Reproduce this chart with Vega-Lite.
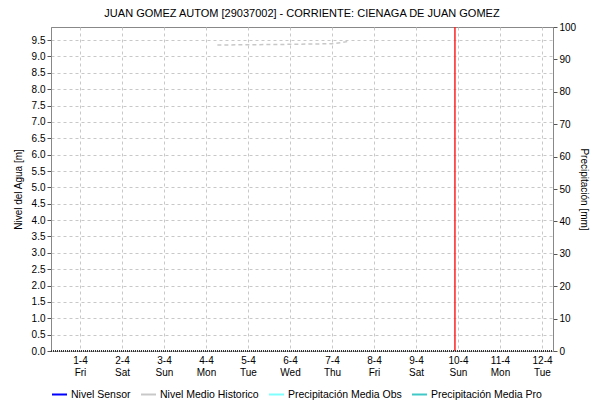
{
  "$schema": "https://vega.github.io/schema/vega-lite/v6.json",
  "autosize": {"type": "none"},
  "width": 502,
  "height": 324,
  "padding": {"left": 51, "top": 27, "right": 37, "bottom": 52},
  "background": "white",
  "title": {"text": "JUAN GOMEZ AUTOM  [29037002] - CORRIENTE: CIENAGA DE JUAN GOMEZ", "font": "Liberation Sans", "fontSize": 11, "fontWeight": "normal", "color": "#000", "offset": 3},
  "config": {
    "view": {"stroke": "#888", "strokeWidth": 1},
    "font": "Liberation Sans",
    "axis": {"labelFont": "Liberation Sans", "titleFont": "Liberation Sans", "labelFontSize": 10, "titleFontSize": 10, "titleFontWeight": "normal", "labelColor": "#000", "titleColor": "#000", "gridColor": "#c8c8c8", "gridDash": [3, 3], "domainColor": "#888", "tickColor": "#555", "tickSize": 4}
  },
  "datasets": {
    "hist": [
      {"t": "2022-04-04T06:30:00Z", "nivel": 9.35, "serie": "Nivel Medio Historico"},
      {"t": "2022-04-05T06:00:00Z", "nivel": 9.36, "serie": "Nivel Medio Historico"},
      {"t": "2022-04-06T00:00:00Z", "nivel": 9.37, "serie": "Nivel Medio Historico"},
      {"t": "2022-04-06T12:00:00Z", "nivel": 9.38, "serie": "Nivel Medio Historico"},
      {"t": "2022-04-07T00:00:00Z", "nivel": 9.39, "serie": "Nivel Medio Historico"},
      {"t": "2022-04-07T06:00:00Z", "nivel": 9.43, "serie": "Nivel Medio Historico"},
      {"t": "2022-04-07T09:30:00Z", "nivel": 9.46, "serie": "Nivel Medio Historico"}
    ],
    "precip": [
      {"t": "2022-03-31T07:26:00Z", "p": 0},
      {"t": "2022-04-12T06:17:00Z", "p": 0}
    ],
    "now": [{"t": "2022-04-09T22:15:00Z"}]
  },
  "layer": [
    {
      "data": {"name": "hist"},
      "mark": {"type": "line", "strokeDash": [4, 3], "strokeWidth": 1.5},
      "encoding": {
        "x": {"field": "t", "type": "temporal", "scale": {"type": "utc", "domain": [{"year": 2022, "month": 3, "date": 31, "hours": 7, "minutes": 26, "utc": true}, {"year": 2022, "month": 4, "date": 12, "hours": 6, "minutes": 17, "utc": true}]},
          "axis": {"title": null, "tickCount": {"interval": "day", "step": 1}, "labelExpr": "[utcFormat(datum.value, '%-d-%-m'), utcFormat(datum.value, '%a')]", "domain": false, "ticks": false, "labelPadding": 4, "labelFontSize": 10, "labelLineHeight": 12, "labelOverlap": false, "labelFlush": false}},
        "y": {"field": "nivel", "type": "quantitative", "scale": {"domain": [0, 9.9], "nice": false, "zero": true},
          "axis": {"title": "Nivel del Agua [m]", "values": [0, 0.5, 1, 1.5, 2, 2.5, 3, 3.5, 4, 4.5, 5, 5.5, 6, 6.5, 7, 7.5, 8, 8.5, 9, 9.5], "format": ".1f", "titlePadding": 8}},
        "color": {"field": "serie", "type": "nominal",
          "scale": {"domain": ["Nivel Sensor", "Nivel Medio Historico", "Precipitación Media Obs", "Precipitación Media Pro"], "range": ["#0000ff", "#c8c8c8", "#80ffff", "#40c8c8"]},
          "legend": {"orient": "bottom", "direction": "horizontal", "title": null, "offset": 9, "labelFont": "Liberation Sans", "labelFontSize": 10.5, "labelColor": "#000", "symbolType": "stroke", "symbolSize": 225, "symbolStrokeWidth": 2, "columnPadding": 6, "labelOffset": 3}
        }
      }
    },
    {
      "data": {"name": "now"},
      "mark": {"type": "rule", "color": "#ff2020", "strokeWidth": 1.5},
      "encoding": {"x": {"field": "t", "type": "temporal"}}
    },
    {
      "data": {"name": "precip"},
      "mark": {"type": "line", "strokeDash": [1, 1], "strokeWidth": 2, "color": "#333"},
      "encoding": {
        "x": {"field": "t", "type": "temporal"},
        "y": {"field": "p", "type": "quantitative", "scale": {"domain": [0, 100], "nice": false},
          "axis": {"orient": "right", "title": "Precipitación [mm]", "values": [0, 10, 20, 30, 40, 50, 60, 70, 80, 90, 100], "grid": false, "titlePadding": 3}}
      }
    }
  ],
  "resolve": {"scale": {"y": "independent"}}
}
